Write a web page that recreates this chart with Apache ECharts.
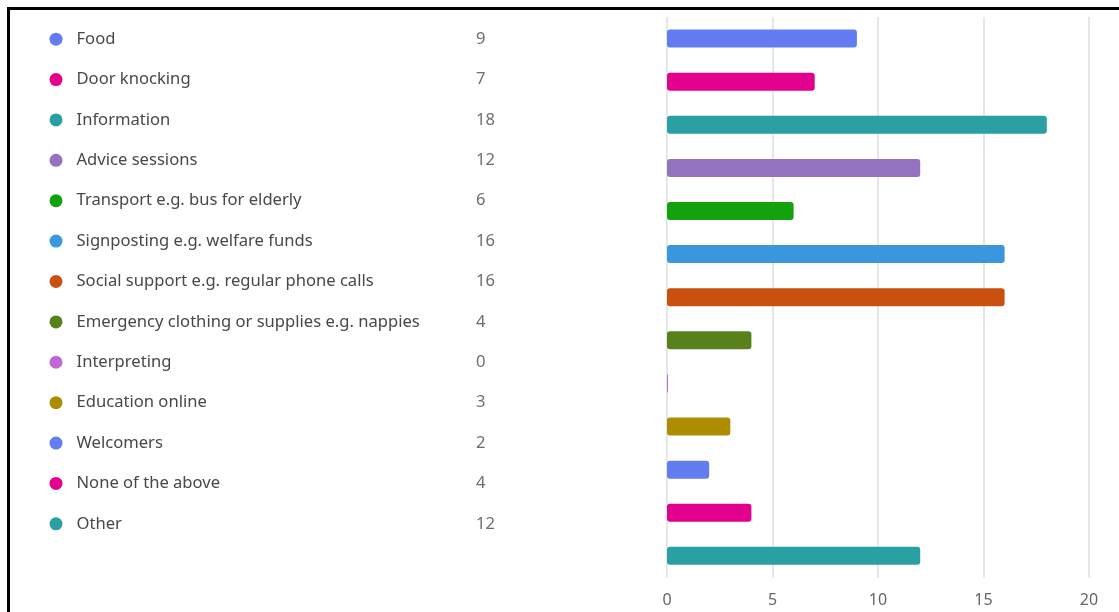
<!DOCTYPE html>
<html>
<head>
<meta charset="utf-8">
<script src="https://cdn.jsdelivr.net/npm/echarts@6/dist/echarts.min.js"></script>
<style>
html,body{margin:0;padding:0;background:#fff;}
#chart{width:1119px;height:612px;}
</style>
</head>
<body>
<div id="chart"></div>
<script>
const categories = [
  "Food",
  "Door knocking",
  "Information",
  "Advice sessions",
  "Transport e.g. bus for elderly",
  "Signposting e.g. welfare funds",
  "Social support e.g. regular phone calls",
  "Emergency clothing or supplies e.g. nappies",
  "Interpreting",
  "Education online",
  "Welcomers",
  "None of the above",
  "Other"
];
const values = [9, 7, 18, 12, 6, 16, 16, 4, 0, 3, 2, 4, 12];
const colors = ["#637CEF", "#E3008C", "#2AA0A4", "#9373C0", "#13A10E", "#3A96DD", "#CA5010", "#57811B", "#C467D6", "#AE8C00", "#637CEF", "#E3008C", "#2AA0A4"];
const xTicks = [0, 5, 10, 15, 20];

const FONT = "Noto Sans";
const chart = echarts.init(document.getElementById('chart'));

const dotData = categories.map((c, i) => ({
  value: [0, i],
  name: c,
  itemStyle: { color: colors[i], opacity: 1 }
}));
const valData = values.map((v, i) => ({ value: [1, i], v: v }));
const barData = values.map((v, i) => ({ value: v, itemStyle: { color: colors[i] } }));

chart.setOption({
  animation: false,
  textStyle: { fontFamily: FONT },
  graphic: [{
    type: 'rect',
    shape: { x: 8.5, y: 8.5, width: 1300, height: 800 },
    style: { fill: 'none', stroke: '#000', lineWidth: 3 },
    z: 100
  }],
  grid: [
    { left: 56, width: 420, top: 19, height: 525, containLabel: false },
    { left: 667, right: 30, top: 17, bottom: 34.6, containLabel: false }
  ],
  xAxis: [
    { gridIndex: 0, type: 'value', min: 0, max: 1, show: false },
    {
      gridIndex: 1, type: 'value', min: 0, max: 20, interval: 5,
      axisLine: { show: false }, axisTick: { show: false },
      splitLine: { show: true, lineStyle: { color: '#e6e6e6', width: 2 } },
      axisLabel: {
        color: '#666', fontSize: 16, margin: 15, fontFamily: FONT,
        formatter: v => xTicks.includes(v) ? String(v) : ''
      }
    }
  ],
  yAxis: [
    { gridIndex: 0, type: 'category', data: categories, inverse: true, show: false },
    {
      gridIndex: 1, type: 'category', data: categories, inverse: true,
      axisLine: { show: false }, axisTick: { show: false }, axisLabel: { show: false },
      splitLine: { show: false }
    }
  ],
  series: [
    {
      type: 'scatter', xAxisIndex: 0, yAxisIndex: 0,
      symbol: 'circle', symbolSize: 13,
      data: dotData,
      label: {
        show: true, position: 'right', distance: 14,
        formatter: p => p.name,
        color: '#484848', fontSize: 16.6, fontFamily: FONT
      }
    },
    {
      type: 'scatter', xAxisIndex: 0, yAxisIndex: 0,
      symbolSize: 0,
      data: valData,
      label: {
        show: true, position: 'inside', align: 'left',
        formatter: p => String(p.data.v),
        color: '#484848', fontSize: 16.6, fontFamily: FONT
      }
    },
    {
      type: 'bar', xAxisIndex: 1, yAxisIndex: 1,
      barWidth: 18, barMinHeight: 1,
      data: barData,
      itemStyle: { borderRadius: 3 }
    }
  ]
});
</script>
</body>
</html>
